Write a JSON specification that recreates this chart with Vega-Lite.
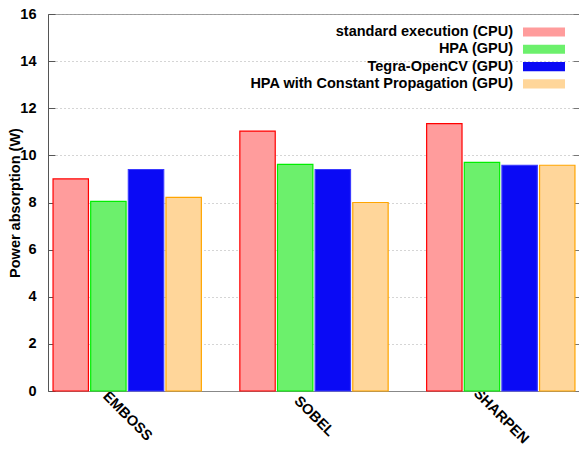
{
  "$schema": "https://vega.github.io/schema/vega-lite/v6.json",
  "width": 532,
  "height": 377,
  "autosize": "none",
  "padding": {"left": 48, "top": 14, "right": 0, "bottom": 62},
  "background": "white",
  "config": {
    "font": "Liberation Sans",
    "view": {"stroke": "#999999", "strokeWidth": 1}
  },
  "data": {
    "values": [
      {"kernel": "EMBOSS", "series": "standard execution (CPU)", "power": 9.0},
      {"kernel": "EMBOSS", "series": "HPA (GPU)", "power": 8.05},
      {"kernel": "EMBOSS", "series": "Tegra-OpenCV (GPU)", "power": 9.4},
      {"kernel": "EMBOSS", "series": "HPA with Constant Propagation (GPU)", "power": 8.22},
      {"kernel": "SOBEL", "series": "standard execution (CPU)", "power": 11.03},
      {"kernel": "SOBEL", "series": "HPA (GPU)", "power": 9.62},
      {"kernel": "SOBEL", "series": "Tegra-OpenCV (GPU)", "power": 9.4},
      {"kernel": "SOBEL", "series": "HPA with Constant Propagation (GPU)", "power": 8.0},
      {"kernel": "SHARPEN", "series": "standard execution (CPU)", "power": 11.35},
      {"kernel": "SHARPEN", "series": "HPA (GPU)", "power": 9.7},
      {"kernel": "SHARPEN", "series": "Tegra-OpenCV (GPU)", "power": 9.58},
      {"kernel": "SHARPEN", "series": "HPA with Constant Propagation (GPU)", "power": 9.58}
    ]
  },
  "encoding": {
    "x": {
      "field": "kernel",
      "type": "nominal",
      "sort": ["EMBOSS", "SOBEL", "SHARPEN"],
      "scale": {"paddingInner": 0.206, "paddingOuter": 0.027},
      "axis": {
        "title": null,
        "ticks": false,
        "domainColor": "#888888",
        "labelAngle": 45,
        "labelAlign": "center",
        "labelBaseline": "middle",
        "labelPadding": 25,
        "labelFont": "Liberation Sans",
        "labelFontWeight": "bold",
        "labelFontSize": 14.5,
        "labelColor": "#000000"
      }
    },
    "xOffset": {
      "field": "series",
      "type": "nominal",
      "sort": ["standard execution (CPU)", "HPA (GPU)", "Tegra-OpenCV (GPU)", "HPA with Constant Propagation (GPU)"],
      "scale": {"paddingInner": 0.06, "paddingOuter": 0}
    },
    "fill": {
      "field": "series",
      "type": "nominal",
      "sort": ["standard execution (CPU)", "HPA (GPU)", "Tegra-OpenCV (GPU)", "HPA with Constant Propagation (GPU)"],
      "scale": {"range": ["#ff9c9c", "#6cf06c", "#0a0af5", "#ffd69a"]},
      "legend": {
        "title": null,
        "orient": "none",
        "legendX": 488,
        "legendY": 10,
        "symbolType": "M-3,-0.65H3V0.65H-3Z",
        "symbolSize": 196,
        "symbolStrokeWidth": 1.2,
        "symbolOpacity": 1,
        "labelAlign": "right",
        "labelOffset": -39,
        "labelFont": "Liberation Sans",
        "labelFontWeight": "bold",
        "labelFontSize": 14.5,
        "labelColor": "#000000",
        "labelLimit": 400,
        "rowPadding": 2.3
      }
    },
    "stroke": {
      "field": "series",
      "type": "nominal",
      "sort": ["standard execution (CPU)", "HPA (GPU)", "Tegra-OpenCV (GPU)", "HPA with Constant Propagation (GPU)"],
      "scale": {"range": ["#ff0000", "#00ee00", "#3a3aff", "#ffa500"]}
    }
  },
  "layer": [
    {
      "mark": {"type": "bar", "strokeWidth": 1.2},
      "encoding": {
        "y": {
          "field": "power",
          "type": "quantitative",
          "scale": {"domain": [0, 16], "nice": false},
          "axis": {
            "title": "Power absorption (W)",
            "titleFont": "Liberation Sans",
            "titleFontWeight": "bold",
            "titleFontSize": 14.5,
            "titleColor": "#000000",
            "titlePadding": -3,
            "values": [0, 2, 4, 6, 8, 10, 12, 14, 16],
            "tickSize": -7,
            "tickColor": "#555555",
            "labelPadding": 19,
            "labelFont": "Liberation Sans",
            "labelFontWeight": "bold",
            "labelFontSize": 14.5,
            "labelColor": "#000000",
            "domainColor": "#555555",
            "grid": true,
            "gridColor": "#aaaaaa",
            "gridDash": [1, 3]
          }
        }
      }
    },
    {
      "mark": {"type": "bar", "fillOpacity": 0, "strokeOpacity": 0},
      "encoding": {
        "y": {
          "field": "power",
          "type": "quantitative",
          "axis": {
            "orient": "right",
            "title": null,
            "labels": false,
            "domain": false,
            "grid": false,
            "values": [0, 2, 4, 6, 8, 10, 12, 14, 16],
            "tickSize": -7,
            "tickColor": "#777777"
          }
        }
      }
    }
  ],
  "resolve": {"axis": {"y": "independent"}}
}
